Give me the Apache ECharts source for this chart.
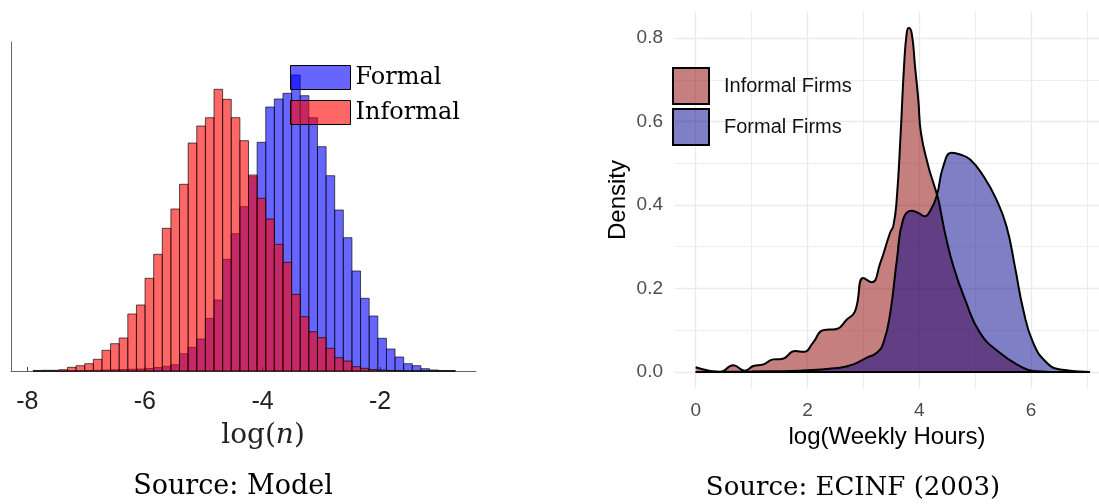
<!DOCTYPE html>
<html>
<head>
<meta charset="utf-8">
<script src="https://cdn.jsdelivr.net/npm/echarts@6/dist/echarts.min.js"></script>
<style>
    html, body { margin: 0; padding: 0; background: #fff; }
    #chart { width: 1099px; height: 504px; }
</style>
</head>
<body>
<div id="chart"></div>
<script>
// left panel: model histogram of log(n), bar heights
const binStart = -7.903;
const binWidth = 0.1466;
const modelFormal = [0, 0, 0, 0, 0.2, 0.3, 0.5, 0.7, 1, 1.2, 1.5, 1.8, 2, 2.5, 3.5, 4.7, 6.3, 17.3, 23.7, 32,
    52.7, 71, 111.7, 137.3, 164.3, 194.3, 228.7, 264, 272, 277.7, 296, 275.3, 253.3, 224.3, 195.3, 161,
    133.3, 100, 72.7, 55, 32.7, 22, 14, 7.3, 5.3, 2.3, 1, 0.5, 0.3];
const modelInformal = [0.3, 0.7, 0.7, 1.3, 3.7, 5.3, 7.3, 11.7, 20.7, 27.3, 33, 57, 66, 92.7, 116.7, 142.7,
    162, 186.7, 228, 245, 253.3, 281.7, 271.7, 253.3, 230.3, 196, 172.7, 152, 126.7, 108.7, 76.7, 54.3,
    39.3, 33.3, 22.7, 13.3, 10, 4.3, 2.7, 1.5, 1, 0.5, 0.3, 0, 0, 0, 0, 0, 0];
const modelTicks = [-8, -6, -4, -2];

// right panel: ECINF (2003) densities of log(weekly hours)
const informalX = [0, 0.26, 0.44, 0.67, 0.88, 1.03, 1.21, 1.39, 1.54, 1.78, 1.93, 2.10, 2.28, 2.52, 2.70,
    2.85, 3.00, 3.15, 3.30, 3.476, 3.536, 3.596, 3.667, 3.727, 3.775, 3.81, 3.864, 3.924, 3.983, 4.031,
    4.162, 4.252, 4.341, 4.40, 4.46, 4.61, 4.82, 5.09, 5.44, 5.80, 6.04, 6.34, 7.05];
const informalY = [0.011, 0.002, 0, 0.016, 0.003, 0.014, 0.018, 0.030, 0.031, 0.050, 0.048, 0.070, 0.100,
    0.103, 0.125, 0.145, 0.225, 0.215, 0.260, 0.333, 0.350, 0.413, 0.572, 0.732, 0.812, 0.824, 0.812,
    0.732, 0.652, 0.572, 0.493, 0.453, 0.413, 0.373, 0.333, 0.253, 0.173, 0.093, 0.046, 0.014, 0.002, 0, 0];
const formalX = [0, 1.0, 1.87, 2.58, 2.82, 3.06, 3.24, 3.36, 3.48, 3.60, 3.71, 3.86, 3.98, 4.10, 4.19,
    4.31, 4.43, 4.58, 4.73, 4.91, 5.15, 5.38, 5.56, 5.71, 5.86, 6.04, 6.28, 6.52, 7.05];
const formalY = [0, 0.001, 0.003, 0.010, 0.018, 0.034, 0.046, 0.070, 0.141, 0.269, 0.365, 0.386, 0.381,
    0.373, 0.385, 0.421, 0.493, 0.525, 0.521, 0.509, 0.469, 0.413, 0.349, 0.253, 0.149, 0.069, 0.022,
    0.006, 0];
const hoursTicks = [0, 2, 4, 6];
const densityTicks = [0, 0.2, 0.4, 0.6, 0.8];

const sans = 'Liberation Sans, Arial, sans-serif';
const serif = 'DejaVu Serif, serif';

function toBins(counts) {
    return counts.map((c, i) => [binStart + i * binWidth, binStart + (i + 1) * binWidth, c]);
}

function toPairs(xs, ys) {
    return xs.map((x, i) => [x, ys[i]]);
}

function binRenderer(fill) {
    return function (params, api) {
        let top = api.coord([api.value(0), api.value(2)]);
        let bottom = api.coord([api.value(1), 0]);
        return {
            type: 'rect',
            shape: { x: top[0], y: top[1], width: bottom[0] - top[0], height: bottom[1] - top[1] },
            style: { fill: fill, stroke: 'rgba(0,0,0,0.65)', lineWidth: 1 }
        };
    };
}

const formalBlue = 'rgba(0,0,255,0.6)';
const informalRed = 'rgba(255,0,0,0.6)';
const informalFill = 'rgba(139,0,0,0.5)';
const formalFill = 'rgba(0,0,139,0.5)';
const gridLine = { color: '#EBEBEB', width: 1.4 };

let myChart = echarts.init(document.getElementById('chart'));
let option = {
    animation: false,
    grid: [
        { left: 11, right: 623, top: 42, bottom: 133 },
        { left: 675, right: 0, top: 11, bottom: 115 }
    ],
    legend: [
        {
            orient: 'vertical',
            left: 290,
            top: 65,
            itemWidth: 60,
            itemHeight: 24,
            itemGap: 10,
            padding: 0,
            selectedMode: false,
            textStyle: { fontFamily: serif, fontSize: 24, color: '#000' },
            data: [
                { name: 'Formal', icon: 'rect', itemStyle: { color: formalBlue, borderColor: '#000', borderWidth: 1 } },
                { name: 'Informal', icon: 'rect', itemStyle: { color: informalRed, borderColor: '#000', borderWidth: 1 } }
            ]
        },
        {
            orient: 'vertical',
            left: 672,
            top: 67,
            itemWidth: 36,
            itemHeight: 36,
            itemGap: 3,
            padding: 0,
            selectedMode: false,
            textStyle: { fontFamily: sans, fontSize: 20, color: '#111', padding: [0, 0, 0, 10] },
            data: [
                { name: 'Informal Firms', icon: 'rect', itemStyle: { color: informalFill, borderColor: '#000', borderWidth: 2 } },
                { name: 'Formal Firms', icon: 'rect', itemStyle: { color: formalFill, borderColor: '#000', borderWidth: 2 } }
            ]
        }
    ],
    xAxis: [
        {
            type: 'value',
            gridIndex: 0,
            min: -8.277,
            max: -0.369,
            axisLine: { lineStyle: { color: '#666', width: 1 } },
            axisTick: { show: true, inside: true, length: 4, customValues: modelTicks, lineStyle: { color: '#444' } },
            axisLabel: { customValues: modelTicks, fontFamily: sans, fontSize: 25, color: '#222', margin: 19 },
            splitLine: { show: false }
        },
        {
            type: 'value',
            gridIndex: 1,
            min: -0.37,
            max: 7.215,
            splitNumber: 4,
            name: 'log(Weekly Hours)',
            nameLocation: 'middle',
            nameGap: 35,
            nameTextStyle: { fontFamily: sans, fontSize: 24, color: '#000' },
            axisLine: { show: false },
            axisTick: { show: false },
            axisLabel: { customValues: hoursTicks, fontFamily: sans, fontSize: 19, color: '#4D4D4D', margin: 12 },
            splitLine: { show: true, showMinLine: false, showMaxLine: false, lineStyle: gridLine },
            minorTick: { show: false, splitNumber: 2 },
            minorSplitLine: { show: true, lineStyle: { color: '#EEEEEE', width: 1 } }
        }
    ],
    yAxis: [
        {
            type: 'value',
            gridIndex: 0,
            min: 0,
            max: 329,
            axisLine: { show: true, lineStyle: { color: '#666', width: 1 } },
            axisTick: { show: false },
            axisLabel: { show: false },
            splitLine: { show: false }
        },
        {
            type: 'value',
            gridIndex: 1,
            min: -0.041,
            max: 0.865,
            splitNumber: 5,
            name: 'Density',
            nameLocation: 'middle',
            nameGap: 45,
            nameTextStyle: { fontFamily: sans, fontSize: 24, color: '#000' },
            axisLine: { show: false },
            axisTick: { show: false },
            axisLabel: {
                customValues: densityTicks,
                formatter: (v) => v.toFixed(1),
                fontFamily: sans, fontSize: 19, color: '#4D4D4D', margin: 12
            },
            splitLine: { show: true, showMinLine: false, showMaxLine: false, lineStyle: gridLine },
            minorTick: { show: false, splitNumber: 2 },
            minorSplitLine: { show: true, lineStyle: { color: '#EEEEEE', width: 1 } }
        }
    ],
    series: [
        {
            name: 'Formal',
            type: 'custom',
            xAxisIndex: 0,
            yAxisIndex: 0,
            itemStyle: { color: formalBlue },
            renderItem: binRenderer(formalBlue),
            data: toBins(modelFormal)
        },
        {
            name: 'Informal',
            type: 'custom',
            xAxisIndex: 0,
            yAxisIndex: 0,
            itemStyle: { color: informalRed },
            renderItem: binRenderer(informalRed),
            data: toBins(modelInformal)
        },
        {
            name: 'Informal Firms',
            type: 'line',
            xAxisIndex: 1,
            yAxisIndex: 1,
            smooth: 0.5,
            symbol: 'none',
            itemStyle: { color: informalFill },
            lineStyle: { color: '#000', width: 2 },
            areaStyle: { color: informalFill, opacity: 1 },
            data: toPairs(informalX, informalY)
        },
        {
            name: 'Formal Firms',
            type: 'line',
            xAxisIndex: 1,
            yAxisIndex: 1,
            smooth: 0.5,
            symbol: 'none',
            itemStyle: { color: formalFill },
            lineStyle: { color: '#000', width: 2 },
            areaStyle: { color: formalFill, opacity: 1 },
            data: toPairs(formalX, formalY)
        },
        {
            // bottom edge of the density polygons
            name: 'baseline',
            type: 'line',
            xAxisIndex: 1,
            yAxisIndex: 1,
            symbol: 'none',
            silent: true,
            lineStyle: { color: '#000', width: 2 },
            data: [[informalX[0], 0], [informalX[informalX.length - 1], 0]]
        }
    ],
    graphic: [
        {
            type: 'text',
            x: 263,
            y: 436,
            style: {
                text: '{r|log(}{i|n}{r|)}',
                textAlign: 'center',
                textVerticalAlign: 'middle',
                rich: {
                    r: { fontFamily: serif, fontSize: 28, fill: '#222' },
                    i: { fontFamily: serif, fontSize: 28, fontStyle: 'italic', fill: '#222' }
                }
            }
        },
        {
            type: 'text',
            x: 233,
            y: 487,
            style: { text: 'Source: Model', font: '27px ' + serif, fill: '#000', textAlign: 'center', textVerticalAlign: 'middle' }
        },
        {
            type: 'text',
            x: 853,
            y: 488,
            style: { text: 'Source: ECINF (2003)', font: '26px ' + serif, fill: '#000', textAlign: 'center', textVerticalAlign: 'middle' }
        }
    ]
};
myChart.setOption(option);
</script>
</body>
</html>
